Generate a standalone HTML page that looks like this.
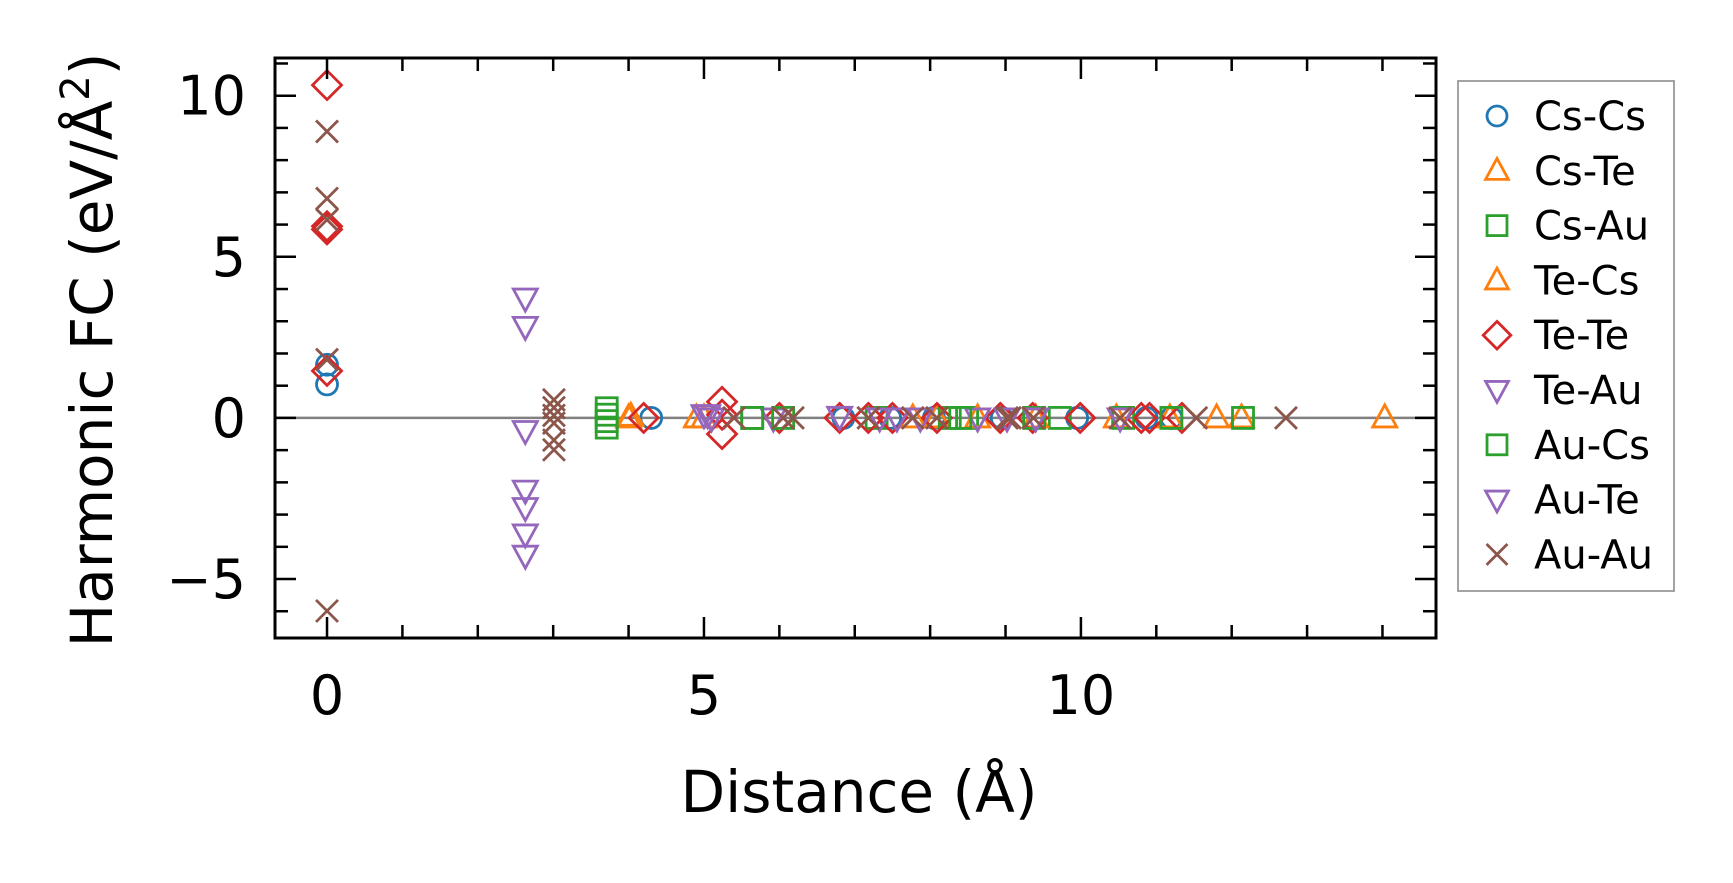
<!DOCTYPE html>
<html><head><meta charset="utf-8">
<style>
html,body{margin:0;padding:0;background:#fff;}
svg{display:block;font-family:"DejaVu Sans","Liberation Sans",sans-serif;}
</style></head>
<body>
<svg id="chart" width="1733" height="883" viewBox="0 0 1733 883" xmlns="http://www.w3.org/2000/svg">
<rect width="1733" height="883" fill="#fff"/>
<g id="marks"></g>
<g id="axes"></g>
<text x="859" y="812" font-size="58" text-anchor="middle">Distance (Å)</text>
<text transform="translate(112,350) rotate(-90)" font-size="58" text-anchor="middle">Harmonic FC (eV/Å<tspan font-size="40" dy="-23">2</tspan><tspan dy="23">)</tspan></text>
<g id="legend"></g>
</svg>
<script>
// ---- data ----
const seriesNames = ["Cs-Cs","Cs-Te","Cs-Au","Te-Cs","Te-Te","Te-Au","Au-Cs","Au-Te","Au-Au"];
const seriesColors = ["#1f77b4","#ff7f0e","#2ca02c","#ff7f0e","#d62728","#9467bd","#2ca02c","#9467bd","#8c564b"];
const seriesMarkers = ["circle","tri-up","square","tri-up","diamond","tri-down","square","tri-down","x"];
const csCsX = [0,0,4.3,6.85,7.47,8.05,8.95,9.95,10.87,11.2];
const csCsY = [1.65,1.04,0,0,0,0,0,0,0,0];
const csTeX = [4.03,4.9,7.77,8.09,10.47,11.18,11.8];
const csTeY = [0.05,0,0,0,0,0,0];
const csAuX = [3.71,3.71,5.64,7.29,8.26,8.49,9.72,10.56];
const csAuY = [0.3,0.1,0,0,0,0,0,0];
const teCsX = [4.0,5.0,8.63,9.4,12.13,14.03];
const teCsY = [0,0,0,0,0,0];
const teTeX = [0,0,0,0,4.2,5.24,5.24,5.24,6.0,6.8,7.18,7.5,8.09,8.93,9.36,9.99,10.8,10.91,11.34];
const teTeY = [10.33,5.95,5.85,1.46,0,0.5,0.1,-0.5,0,0,0,0,0,0,0,0,0,0,0];
const teAuX = [2.63,2.63,2.63,2.63,2.63,5.0,5.92,6.8,7.33,7.87,8.63,9.02];
const teAuY = [3.72,2.84,-0.39,-2.24,-3.6,0.1,0,0.05,0,0,0,0];
const auCsX = [3.71,3.71,5.64,6.05,8.4,9.38,11.2,12.15];
const auCsY = [-0.1,-0.3,0,0,0,0,0,0];
const auTeX = [2.63,2.63,5.05,5.1,7.56,9.4,10.52];
const auTeY = [-2.78,-4.26,0.1,0,0,0,0];
const auAuX = [0,0,0,0,0,3.01,3.01,3.01,3.01,3.01,3.01,5.4,6.05,6.18,7.18,7.77,8.09,9.02,9.06,9.37,10.52,11.53,12.72];
const auAuY = [8.89,6.81,6.15,1.81,-5.99,0.56,0.32,0.08,-0.16,-0.69,-0.99,0,0,0,0,0,0,0,0,0,0,0,0];
const xTicks = [0,5,10];
const xTickLabels = ["0","5","10"];
const yTicks = [-5,0,5,10];
const yTickLabels = ["\u22125","0","5","10"];

const seriesX = [csCsX,csTeX,csAuX,teCsX,teTeX,teAuX,auCsX,auTeX,auAuX];
const seriesY = [csCsY,csTeY,csAuY,teCsY,teTeY,teAuY,auCsY,auTeY,auAuY];

// ---- axes ----
const L=275,R=1436,T=58,B=638;
const xMin=-0.69,xMax=14.71,yMin=-6.83,yMax=11.17;
const sx=v=>L+(v-xMin)/(xMax-xMin)*(R-L);
const sy=v=>B-(v-yMin)/(yMax-yMin)*(B-T);
const NS="http://www.w3.org/2000/svg";
function mk(tag,attrs,parent){const e=document.createElementNS(NS,tag);for(const k in attrs)e.setAttribute(k,attrs[k]);parent.appendChild(e);return e;}

const marks=document.getElementById('marks');
const axes=document.getElementById('axes');

const zl=mk('line',{x1:L,x2:R,y1:sy(0),y2:sy(0),stroke:'#808080','stroke-width':2.5},marks);



function marker(type,cx,cy,color,parent,s){
  s=s||1;
  let e;
  const a={fill:'none',stroke:color,'stroke-width':2.8};
  if(type==='circle'){a.cx=cx;a.cy=cy;a.r=10.5*s;e=mk('circle',a,parent);}
  else if(type==='square'){a.x=cx-10.5*s;a.y=cy-10.5*s;a.width=21*s;a.height=21*s;e=mk('rect',a,parent);}
  else if(type==='tri-up'){a.points=`${cx},${cy-13*s} ${cx+12*s},${cy+9*s} ${cx-12*s},${cy+9*s}`;e=mk('polygon',a,parent);}
  else if(type==='tri-down'){a.points=`${cx},${cy+13*s} ${cx+12*s},${cy-9*s} ${cx-12*s},${cy-9*s}`;e=mk('polygon',a,parent);}
  else if(type==='diamond'){a.points=`${cx},${cy-14.5*s} ${cx+14.5*s},${cy} ${cx},${cy+14.5*s} ${cx-14.5*s},${cy}`;e=mk('polygon',a,parent);}
  else {a.d=`M${cx-11*s},${cy-11*s}L${cx+11*s},${cy+11*s}M${cx-11*s},${cy+11*s}L${cx+11*s},${cy-11*s}`;e=mk('path',a,parent);}
  return e;
}

seriesNames.forEach((name,si)=>{
  const g=mk('g',{},marks);
  
  
  seriesX[si].forEach((xv,i)=>{
    const m=marker(seriesMarkers[si],sx(xv),sy(seriesY[si][i]),seriesColors[si],g);
    
    
  });
});

const fr=mk('rect',{x:L,y:T,width:R-L,height:B-T,fill:'none',stroke:'#000','stroke-width':3},axes);



for(let v=Math.ceil(xMin);v<=xMax;v++){
  const major=v%5===0, len=major?21:13, x=sx(v);
  mk('line',{x1:x,x2:x,y1:B,y2:B-len,stroke:'#000','stroke-width':2.5},axes);
  mk('line',{x1:x,x2:x,y1:T,y2:T+len,stroke:'#000','stroke-width':2.5},axes);
}
for(let v=Math.ceil(yMin);v<=yMax;v++){
  const major=v%5===0, len=major?21:13, y=sy(v);
  mk('line',{x1:L,x2:L+len,y1:y,y2:y,stroke:'#000','stroke-width':2.5},axes);
  mk('line',{x1:R,x2:R-len,y1:y,y2:y,stroke:'#000','stroke-width':2.5},axes);
}
xTicks.forEach((v,i)=>{
  const t=mk('text',{x:sx(v),y:714,'font-size':54,'text-anchor':'middle'},axes);
  t.textContent=xTickLabels[i];
  
  
});
yTicks.forEach((v,i)=>{
  const t=mk('text',{x:246,y:sy(v)+19,'font-size':54,'text-anchor':'end'},axes);
  t.textContent=yTickLabels[i];
  
  
});

const lg=document.getElementById('legend');
mk('rect',{x:1458,y:81,width:216,height:510,fill:'#fff',stroke:'#999','stroke-width':1.8},lg);
seriesNames.forEach((name,si)=>{
  const y=116+si*54.8;
  const g=mk('g',{},lg);
  
  
  marker(seriesMarkers[si],1497,y,seriesColors[si],g,0.95);
  const t=mk('text',{x:1534,y:y+14,'font-size':40},g);
  t.textContent=name;
});
</script>
</body></html>
